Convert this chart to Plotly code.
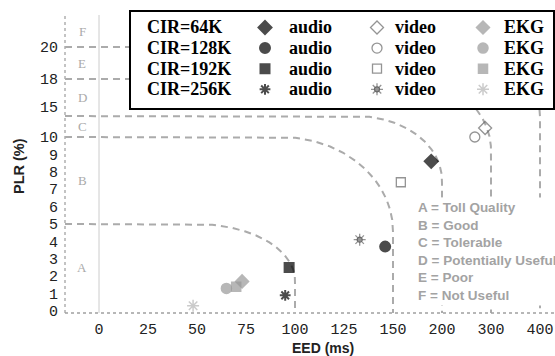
import numpy as np
import plotly.graph_objects as go

# ---------------- data ----------------
eed_ticks = [0, 25, 50, 75, 100, 125, 150, 200, 300, 400]
plr_ticks = [0, 1, 2, 3, 4, 5, 6, 7, 8, 9, 10, 15, 18, 20]

cir_labels = ["CIR=64K", "CIR=128K", "CIR=192K", "CIR=256K"]
media_labels = ["audio", "video", "EKG"]

audio_eed = [189, 146, 97, 95]
audio_plr = [8.6, 3.7, 2.5, 0.9]
video_eed = [288, 267, 158, 133]
video_plr = [11.5, 10.0, 7.4, 4.1]
ekg_eed = [73, 65, 70, 48]
ekg_plr = [1.7, 1.3, 1.4, 0.3]

zone_letters = ["A", "B", "C", "D", "E", "F"]
zone_names = ["Toll Quality", "Good", "Tolerable", "Potentially Useful", "Poor", "Not Useful"]
zone_plr_limits = [5, 10, 13.5, 18, 20]
zone_eed_limits = [100, 150, 200, 300, 400]

# ---------------- non-linear scales ----------------
X_IDX = np.arange(len(eed_ticks))
Y_KNOT_VAL = [0, 10, 15, 18, 20]
Y_KNOT_POS = [0, 10, 11.72, 13.33, 15.17]


def sx(v):
    return np.interp(v, eed_ticks, X_IDX)


def sy(v):
    return np.interp(v, Y_KNOT_VAL, Y_KNOT_POS)


# ---------------- layout geometry (window pixels) ----------------
W, H = 555, 356
REF_L, REF_R, REF_T, REF_B = 65, 553, 15, 313   # plot area
ML, MT, MR, MB = REF_L, REF_T, W - REF_R, H - REF_B
PW, PH = REF_R - REF_L, REF_B - REF_T
X0_PX, X_PX = 99.0, 49.0
Y0_PX, Y_PX = 311.0, 17.4
x_range = [(REF_L - X0_PX) / X_PX, (REF_R - X0_PX) / X_PX]
y_range = [(Y0_PX - REF_B) / Y_PX, (Y0_PX - REF_T) / Y_PX]


def px2x(px):
    return (px - X0_PX) / X_PX


def py2y(py):
    return (Y0_PX - py) / Y_PX


def ppx(px):
    return (px - REF_L) / PW


def ppy(py):
    return (REF_B - py) / PH


LEG = (130, 11, 554, 109)  # legend box (x0, y0, x1, y1)
corner_px = [(99, 56), (112, 94), (86, 64), (81, 71), (86, 70)]

fig = go.Figure()

# ---------------- zone boundaries ----------------
lx0, lx1, ly0 = px2x(LEG[0]), px2x(LEG[2]), py2y(LEG[3])
bx, by = [], []
for lvl, eed, (rxp, ryp) in zip(zone_plr_limits, zone_eed_limits, corner_px):
    yl, xr = float(sy(lvl)), float(sx(eed))
    rx, ry = rxp / X_PX, ryp / Y_PX
    cx, cy = xr - rx, yl - ry
    xh = np.linspace(x_range[0], cx, 1500)
    yh = np.full_like(xh, yl)
    t = np.linspace(0, np.pi / 2, 600)
    xe = cx + rx * np.sin(t)
    ye = cy + ry * np.cos(t)
    yv = np.linspace(cy, y_range[0], 400)
    xv = np.full_like(yv, xr)
    xx = np.concatenate([xh, xe, xv])
    yy = np.concatenate([yh, ye, yv])
    mask = (xx > lx0) & (xx < lx1) & (yy > ly0)
    xo = xx.astype(object)
    yo = yy.astype(object)
    xo[mask] = None
    yo[mask] = None
    bx += list(xo) + [None]
    by += list(yo) + [None]

fig.add_trace(go.Scatter(x=bx, y=by, mode="lines", hoverinfo="skip", showlegend=False,
                         line=dict(color="#ababab", width=2, dash="7px,5px")))

# ---------------- data markers ----------------
fig.add_trace(go.Scatter(
    x=sx(audio_eed), y=sy(audio_plr), mode="markers", showlegend=False,
    marker=dict(symbol=["diamond", "circle", "square", "asterisk-open"],
                size=[10, 10, 9, 9], color="black",
                line=dict(color="black", width=2))))
fig.add_trace(go.Scatter(
    x=sx(video_eed), y=sy(video_plr), mode="markers", showlegend=False,
    marker=dict(symbol=["diamond-open", "circle-open", "square-open", "asterisk-open"],
                size=[10, 10, 9, 10], color="#666666",
                line=dict(width=1.3))))
fig.add_trace(go.Scatter(
    x=sx(video_eed[3:]), y=sy(video_plr[3:]), mode="markers", showlegend=False,
    marker=dict(symbol="circle-open", size=5, color="#666666", line=dict(width=1.2))))
fig.add_trace(go.Scatter(
    x=sx(ekg_eed), y=sy(ekg_plr), mode="markers", showlegend=False,
    marker=dict(symbol=["diamond", "circle", "square", "asterisk-open"],
                size=[10, 10, 9, 10], color=["#999999", "#999999", "#999999", "#b5b5b5"],
                line=dict(color=["#999999", "#999999", "#999999", "#b5b5b5"], width=1.5))))

# ---------------- legend (custom box) ----------------
row_py = [27.5 + 20.6 * k for k in range(4)]
col_marker_px = [265, 377, 483]
col_text_px = [287, 393, 502]
legend_styles = [
    dict(symbols=["diamond", "circle", "square", "asterisk-open"], color="black",
         sizes=[10, 10, 9, 9], lw=2),
    dict(symbols=["diamond-open", "circle-open", "square-open", "asterisk-open"], color="#666666",
         sizes=[10, 10, 9, 10], lw=1.3),
    dict(symbols=["diamond", "circle", "square", "asterisk-open"],
         color=["#999999", "#999999", "#999999", "#b5b5b5"], sizes=[10, 10, 9, 10], lw=1.5),
]
for ci, st in enumerate(legend_styles):
    fig.add_trace(go.Scatter(
        x=[ppx(col_marker_px[ci])] * 4, y=[ppy(p) for p in row_py], mode="markers",
        xaxis="x2", yaxis="y2", showlegend=False, hoverinfo="skip", cliponaxis=False,
        marker=dict(symbol=st["symbols"], size=st["sizes"], color=st["color"],
                    line=dict(color=st["color"], width=st["lw"]))))
fig.add_trace(go.Scatter(
    x=[ppx(col_marker_px[1])], y=[ppy(row_py[3])], mode="markers",
    xaxis="x2", yaxis="y2", showlegend=False, hoverinfo="skip", cliponaxis=False,
    marker=dict(symbol="circle-open", size=5, color="#666666", line=dict(width=1.2))))

annotations = []
serif = dict(family="Liberation Serif", size=18, color="black")
for ri, lab in enumerate(cir_labels):
    annotations.append(dict(x=ppx(145), y=ppy(row_py[ri]), xref="paper", yref="paper",
                            text=f"<b>{lab}</b>", showarrow=False, xanchor="left",
                            yanchor="middle", font=serif))
    for ci, m in enumerate(media_labels):
        annotations.append(dict(x=ppx(col_text_px[ci]), y=ppy(row_py[ri]), xref="paper",
                                yref="paper", text=f"<b>{m}</b>", showarrow=False,
                                xanchor="left", yanchor="middle", font=serif))

# zone letters
zone_bounds = [0] + zone_plr_limits
zone_pos = [float(sy(v)) for v in zone_bounds] + [y_range[1]]
for i, letter in enumerate(zone_letters):
    annotations.append(dict(x=(x_range[0] + 0) / 2, y=(zone_pos[i] + zone_pos[i + 1]) / 2,
                            xref="x", yref="y", text=letter, showarrow=False,
                            xanchor="center", yanchor="middle",
                            font=dict(family="Liberation Serif", size=13, color="#aaaaaa")))

# zone description box
annotations.append(dict(
    x=ppx(415), y=ppy(251.5), xref="paper", yref="paper", xanchor="left", yanchor="middle",
    align="left", showarrow=False, bgcolor="white", borderpad=2,
    text="<br>".join(f"<b>{l} = {n}</b>" for l, n in zip(zone_letters, zone_names)),
    font=dict(family="Liberation Sans", size=13.5, color="#a3a3a3")))

# axis titles
annotations.append(dict(x=ppx(323), y=ppy(348), xref="paper", yref="paper", showarrow=False,
                        xanchor="center", yanchor="middle", text="<b>EED (ms)</b>",
                        font=dict(family="Liberation Sans", size=14, color="#222222")))
annotations.append(dict(x=ppx(19), y=ppy(166), xref="paper", yref="paper", showarrow=False,
                        xanchor="center", yanchor="middle",
                        text="<b>PLR (%)</b>", textangle=-90,
                        font=dict(family="Liberation Sans", size=14.5, color="#222222")))

shapes = [
    dict(type="line", xref="x", yref="paper", x0=0, x1=0, y0=0, y1=1,
         line=dict(color="#cccccc", width=1), layer="below"),
    dict(type="line", xref="paper", yref="paper", x0=0, x1=0, y0=0, y1=1,
         line=dict(color="#b0b0b0", width=1.5, dash="dot")),
    dict(type="line", xref="paper", yref="paper", x0=0, x1=1.01, y0=0, y1=0,
         line=dict(color="#a0a0a0", width=1.5, dash="dot")),
    dict(type="rect", xref="paper", yref="paper", x0=ppx(LEG[0]), x1=ppx(LEG[2]),
         y0=ppy(LEG[3]), y1=ppy(LEG[1]), line=dict(color="black", width=2),
         fillcolor="rgba(0,0,0,0)", layer="above"),
]

tickfont = dict(family="Liberation Mono", size=15, color="#222222")
fig.update_layout(
    width=W, height=H, margin=dict(l=ML, r=MR, t=MT, b=MB),
    paper_bgcolor="white", plot_bgcolor="white",
    xaxis=dict(range=x_range, tickvals=list(X_IDX), ticktext=[str(v) for v in eed_ticks],
               showgrid=False, zeroline=False, showline=False, ticks="outside", ticklen=2,
               tickcolor="rgba(0,0,0,0)", tickfont=tickfont),
    yaxis=dict(range=y_range, tickvals=[float(sy(v)) for v in plr_ticks],
               ticktext=[str(v) for v in plr_ticks], showgrid=False, zeroline=False,
               showline=False, ticks="outside", ticklen=3, tickcolor="rgba(0,0,0,0)",
               tickfont=tickfont),
    xaxis2=dict(range=[0, 1], overlaying="x", visible=False),
    yaxis2=dict(range=[0, 1], overlaying="y", visible=False),
    annotations=annotations, shapes=shapes, showlegend=False,
)

fig.write_html(
    "out.html",
    config={"displayModeBar": False},
    post_script="document.documentElement.style.margin='0';"
                "document.body.style.margin='0';document.body.style.overflow='hidden';",
)
